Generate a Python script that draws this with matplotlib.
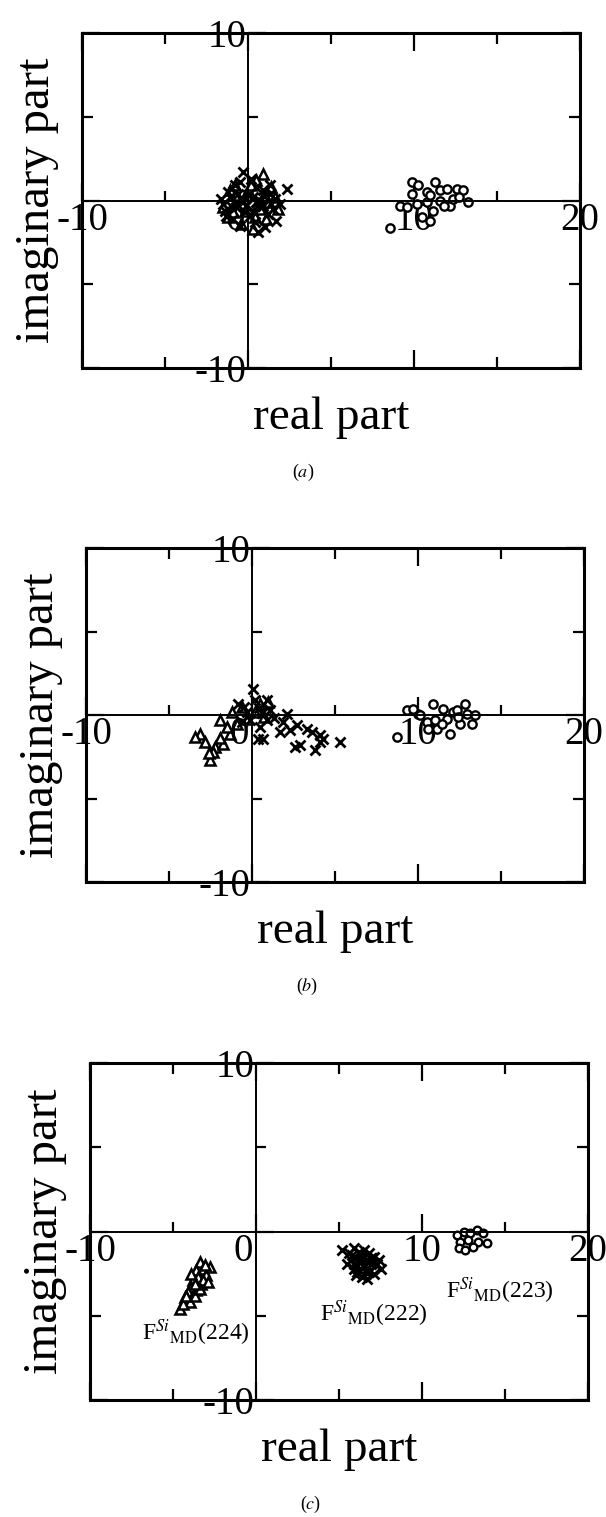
#!/usr/bin/env python3

import matplotlib
matplotlib.use('Agg')
import matplotlib.pyplot as plt

plt.rcParams['font.family'] = ['Liberation Serif', 'DejaVu Serif']
plt.rcParams['mathtext.fontset'] = 'stix'

# ---- panel (a) ----
a_cross_x = [-0.3, 2.35, -1.6, -1.2, -0.8, -0.5, 0.2, 0.5, 0.9, 1.3, 1.6, 1.9, -1.4, -1.0, -0.3,
             0.3, 0.8, 1.2, 1.7, -0.9, -0.2, 0.4, 1.0, 1.5, -1.5, -0.6, 0.1, 0.7, 1.3, 0.6,
             -1.1, -0.4, 0.0, 0.5, 1.0, -0.7, -0.1, 0.3, 0.9, -1.3, 1.4, -0.5]
a_cross_y = [1.7, 0.7, 0.1, 0.5, 0.9, 1.1, 1.3, 0.8, 0.6, 0.4, 0.1, -0.2, -0.6, -0.3, -0.1,
             0.2, -0.4, -0.8, -1.2, -1.1, -0.7, -1.3, -1.6, -0.5, -0.2, 0.4, -0.9, 0.0, 0.9, -1.9,
             0.2, 0.1, 0.3, -0.1, 0.3, -0.4, -0.3, -0.6, -0.3, -0.9, -0.2, -1.5]
a_tri_x = [0.9, 0.5, -1.1, -0.7, 1.4, 1.8, -1.5, 0.0, 0.6, -0.4, 1.1, -1.2, 0.3, -0.8, 1.6,
           0.9, -0.2, 0.4, 1.2, -0.9, 0.2, 0.7]
a_tri_y = [1.6, 1.2, 0.6, 0.3, 0.8, -0.5, -0.4, 0.6, -0.2, -1.4, -1.1, -1.0, -1.7, 0.9, 0.2,
           0.2, -0.6, -1.0, -0.1, -0.7, 0.9, -0.5]
a_circ_x = [9.86, 10.26, 11.27, 10.76, 11.57, 11.97, 12.57, 12.97, 13.27, 12.17, 10.16, 9.16,
            9.56, 11.16, 10.46, 10.96, 8.55, 11.57, 10.76, 10.96, 12.37, 9.9, 11.8, 12.7]
a_circ_y = [1.09, 0.90, 1.09, 0.50, 0.60, 0.70, 0.70, 0.60, -0.10, -0.30, -0.20, -0.30,
            -0.40, -0.60, -1.0, -1.2, -1.63, 0.0, -0.1, 0.3, 0.1, 0.4, -0.3, 0.2]

# ---- panel (b) ----
b_cross_x = [0.08, -0.82, 0.89, 0.4, -0.3, 0.9, 0.38, 2.09, 1.89, 2.69, 2.29, 3.30, 3.60, 4.10,
             4.30, 2.59, 2.89, 3.80, 4.10, 5.30, 1.69, 0.68, -0.5, 0.2, 0.6, 1.1, -0.1, 0.5,
             1.3, -0.6]
b_cross_y = [1.57, 0.68, 0.88, 0.4, 0.2, -0.3, -1.42, 0.08, -0.42, -0.62, -0.92, -0.82, -1.02,
             -1.22, -1.42, -1.92, -1.81, -2.11, -1.62, -1.62, -1.02, -1.42, 0.5, 0.9, 0.1, 0.3,
             -0.3, -0.7, -0.2, -0.4]
b_tri_x = [-1.93, -3.13, -2.53, -2.23, -2.83, -1.73, -1.33, -0.92, -1.23, -0.32, 0.48, 0.98,
           -2.33, -3.43, -2.6, -1.9, -0.6, 0.2, 0.7, -1.5]
b_tri_y = [-0.32, -1.12, -2.71, -1.92, -1.62, -1.72, -1.12, -0.52, 0.18, -0.22, 0.68, 0.78,
           -2.22, -1.32, -2.3, -1.4, 0.5, 0.2, -0.1, -0.7]
b_circ_x = [9.32, 10.02, 10.92, 11.52, 12.13, 12.83, 13.43, 13.23, 12.53, 11.93, 11.13, 10.52,
            10.12, 8.72, 11.02, 11.73, 12.33, 12.93, 9.72, 10.62, 11.43, 12.43]
b_circ_y = [0.28, 0.08, 0.68, 0.38, 0.18, 0.68, -0.02, -0.52, -0.52, -1.12, -0.82, -0.42,
            -0.02, -1.32, -0.32, -0.22, 0.28, 0.08, 0.38, -0.82, -0.52, -0.12]

# ---- panel (c) ----
c_tri_x = [-3.4, -3.2, -3.6, -3.0, -3.5, -3.8, -3.3, -2.8, -3.9, -4.1, -3.6, -4.3, -4.6, -4.0,
           -3.2, -3.7, -4.4, -2.9, -3.4, -3.9, -3.1, -3.7, -4.2]
c_tri_y = [-1.8, -2.2, -2.3, -2.6, -2.7, -2.9, -3.1, -2.1, -3.3, -3.6, -3.5, -3.9, -4.6, -4.2,
           -2.9, -3.8, -4.3, -3.0, -3.4, -2.5, -2.0, -3.1, -3.8]
c_cross_x = [5.2, 5.6, 5.9, 6.2, 6.5, 6.8, 7.1, 7.4, 5.7, 6.0, 6.3, 6.6, 6.9, 7.2, 7.5, 5.9,
             6.2, 6.5, 6.8, 7.1, 6.0, 6.4, 6.7, 5.5, 6.1, 6.6, 7.0, 6.3,
             5.8, 6.4, 6.9, 6.1, 6.7, 7.3, 5.9, 6.5]
c_cross_y = [-1.1, -1.3, -1.0, -1.2, -1.1, -1.3, -1.5, -1.7, -1.7, -1.6, -1.8, -1.7, -1.9, -2.0,
             -2.2, -2.2, -2.3, -2.1, -2.4, -2.5, -2.6, -2.7, -2.8, -1.9, -2.0, -2.4, -1.6, -1.4,
             -1.4, -1.5, -1.6, -2.4, -2.2, -1.9, -1.9, -2.0]
c_circ_x = [12.1, 12.5, 12.9, 13.3, 13.7, 12.3, 12.8, 13.4, 13.9, 12.2, 12.6, 13.1]
c_circ_y = [-0.2, 0.0, -0.1, 0.1, -0.1, -0.6, -0.5, -0.6, -0.7, -1.0, -1.1, -0.9]

c_labels = [r'F$^{Si}{}_{\rm MD}$(224)', r'F$^{Si}{}_{\rm MD}$(222)', r'F$^{Si}{}_{\rm MD}$(223)']
c_label_x = [-3.6, 7.1, 14.7]
c_label_y = [-6.0, -4.9, -3.5]

x_major = [-10, 0, 10, 20]
x_minor = [-5, 5, 15]
y_major = [-10, 0, 10]
y_minor = [-5, 5]
x_ticklabels = ['-10', '', '10', '20']
y_ticklabels = ['-10', '', '10']

panels = [
    ('a', [82, 33, 498, 335], (a_cross_x, a_cross_y), (a_tri_x, a_tri_y), (a_circ_x, a_circ_y)),
    ('b', [86, 548, 498, 334], (b_cross_x, b_cross_y), (b_tri_x, b_tri_y), (b_circ_x, b_circ_y)),
    ('c', [90, 1063, 498, 337], (c_cross_x, c_cross_y), (c_tri_x, c_tri_y), (c_circ_x, c_circ_y)),
]

W, H = 606, 1517
fig = plt.figure(figsize=(W / 100, H / 100), dpi=100)

for letter, (px, py, pw, ph), cross, tri, circ in panels:
    pos = [px / W, 1 - (py + ph) / H, pw / W, ph / H]

    # outer box with inward ticks
    box = fig.add_axes(pos)
    box.set_xlim(-10, 20)
    box.set_ylim(-10, 10)
    box.set_xticks(x_major)
    box.set_xticks(x_minor, minor=True)
    box.set_yticks(y_major)
    box.set_yticks(y_minor, minor=True)
    box.tick_params(which='both', direction='in', top=True, right=True,
                    labelbottom=False, labelleft=False, width=1.6)
    box.tick_params(which='major', length=13)
    box.tick_params(which='minor', length=8)
    for s in box.spines.values():
        s.set_linewidth(2.2)

    # axes crossing at the origin
    ax = fig.add_axes(pos)
    ax.patch.set_visible(False)
    ax.set_xlim(-10, 20)
    ax.set_ylim(-10, 10)
    ax.spines['left'].set_position(('data', 0))
    ax.spines['bottom'].set_position(('data', 0))
    ax.spines['top'].set_visible(False)
    ax.spines['right'].set_visible(False)
    ax.spines['left'].set_linewidth(1.4)
    ax.spines['bottom'].set_linewidth(1.4)
    ax.set_xticks(x_major)
    ax.set_xticklabels(x_ticklabels)
    ax.set_xticks(x_minor, minor=True)
    ax.set_yticks(y_major)
    ax.set_yticklabels(y_ticklabels)
    ax.set_yticks(y_minor, minor=True)
    ax.tick_params(which='both', direction='in', width=1.6, labelsize=28, pad=1)
    ax.tick_params(which='major', length=13)
    ax.tick_params(which='minor', length=7)
    ax.annotate('0', xy=(0, 0), xytext=(-2, -1), textcoords='offset points',
                ha='right', va='top', fontsize=28)

    ms = 7.5 if letter != 'c' else 6.5
    ax.plot(tri[0], tri[1], linestyle='none', marker='^', ms=ms, mfc='white',
            mec='black', mew=1.8)
    ax.plot(cross[0], cross[1], linestyle='none', marker='x', ms=ms, color='black', mew=2.0)
    ax.plot(circ[0], circ[1], linestyle='none', marker='o', ms=6 if letter != 'c' else 5.5,
            mfc='white', mec='black', mew=1.7)

    if letter == 'c':
        for lab, lx, ly in zip(c_labels, c_label_x, c_label_y):
            ax.text(lx, ly, lab, ha='center', va='center', fontsize=17)

    # axis titles and panel letter
    cx = (px + pw / 2) / W
    fig.text((px - 45) / W, 1 - (py + ph / 2) / H, 'imaginary part', rotation=90,
             ha='center', va='center', fontsize=35)
    fig.text(cx, 1 - (py + ph + 50) / H, 'real part', ha='center', va='center', fontsize=34)
    fig.text((px + pw / 2 - 28) / W, 1 - (py + ph + 104) / H, '($%s$)' % letter,
             ha='center', va='center', fontsize=13)

fig.savefig('out.png', dpi=100)
